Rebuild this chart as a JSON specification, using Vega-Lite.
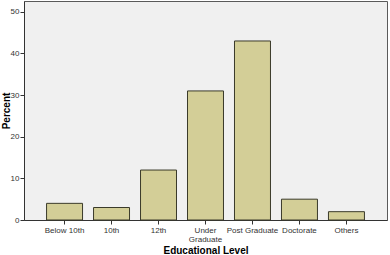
{
  "$schema": "https://vega.github.io/schema/vega-lite/v6.json",
  "width": 363,
  "height": 219,
  "autosize": {"type": "none"},
  "padding": {"left": 24, "top": 1, "right": 3, "bottom": 35},
  "background": "white",
  "config": {
    "view": {"fill": "#f0f0f0", "stroke": "#5a5a5a", "strokeWidth": 1},
    "font": "Liberation Sans"
  },
  "data": {
    "values": [
      {"level": "Below 10th", "percent": 4},
      {"level": "10th", "percent": 3},
      {"level": "12th", "percent": 12},
      {"level": "Under Graduate", "percent": 31},
      {"level": "Post Graduate", "percent": 43},
      {"level": "Doctorate", "percent": 5},
      {"level": "Others", "percent": 2}
    ]
  },
  "mark": {"type": "bar", "fill": "#d3ce97", "stroke": "#3a3a2a", "strokeWidth": 1},
  "encoding": {
    "x": {
      "field": "level",
      "type": "nominal",
      "sort": null,
      "scale": {"paddingInner": 0.234, "paddingOuter": 0.48},
      "axis": {
        "title": "Educational Level",
        "titleFont": "Liberation Sans",
        "titleFontSize": 10,
        "titleFontWeight": "bold",
        "titleColor": "#000000",
        "titleY": 33,
        "titleBaseline": "alphabetic",
        "labelAngle": 0,
        "labelFontSize": 8,
        "labelColor": "#333333",
        "labelPadding": 2,
        "labelLineHeight": 9,
        "labelExpr": "datum.value == 'Under Graduate' ? ['Under', 'Graduate'] : datum.value",
        "tickColor": "#333333",
        "tickSize": 4,
        "domainColor": "#333333",
        "grid": false
      }
    },
    "y": {
      "field": "percent",
      "type": "quantitative",
      "scale": {"domain": [0, 52.6], "nice": false},
      "axis": {
        "title": "Percent",
        "titleFont": "Liberation Sans",
        "titleFontSize": 10,
        "titleFontWeight": "bold",
        "titleColor": "#000000",
        "titleX": -15,
        "titleBaseline": "alphabetic",
        "values": [0, 10, 20, 30, 40, 50],
        "labelFontSize": 8,
        "labelColor": "#333333",
        "labelPadding": 1,
        "tickColor": "#333333",
        "tickSize": 4,
        "domainColor": "#333333",
        "grid": false
      }
    }
  }
}
